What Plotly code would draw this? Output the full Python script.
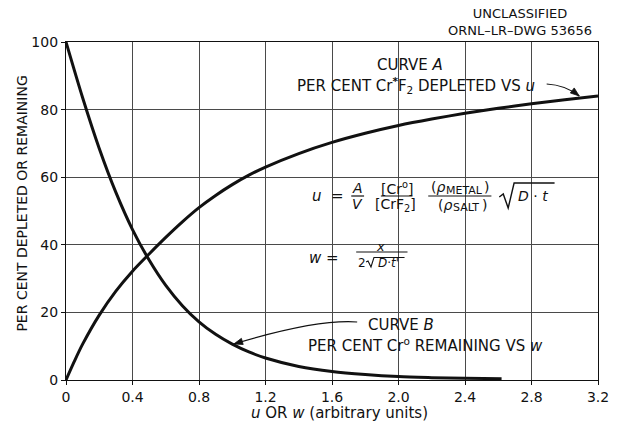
import math
import plotly.graph_objects as go

# Curve A: per cent Cr*F2 depleted vs u
u_vals = [0, 0.05, 0.1, 0.2, 0.3, 0.4, 0.5, 0.6, 0.7, 0.8, 0.9, 1.0, 1.1, 1.2,
          1.4, 1.6, 1.8, 2.0, 2.2, 2.4, 2.6, 2.8, 3.0, 3.2]
curve_a = [0, 5.5, 10.6, 19.2, 26.3, 32.2, 37.3, 42.2, 46.8, 51.0, 54.6, 57.8, 60.6, 63.0,
           67.0, 70.3, 73.0, 75.3, 77.2, 78.9, 80.4, 81.7, 82.9, 84.0]

# Curve B: per cent Cr° remaining vs w
w_vals = [0, 0.1, 0.2, 0.3, 0.4, 0.5, 0.6, 0.7, 0.8, 0.9, 1.0, 1.1, 1.2,
          1.4, 1.6, 1.8, 2.0, 2.2, 2.4, 2.62]
curve_b = [100, 83.5, 68.5, 55.5, 44.5, 35.5, 28.0, 22.0, 17.2, 13.5, 10.6, 8.3, 6.5,
           4.0, 2.5, 1.6, 1.0, 0.7, 0.5, 0.4]

x_ticks = [0, 0.4, 0.8, 1.2, 1.6, 2.0, 2.4, 2.8, 3.2]
x_tick_text = ["0", "0.4", "0.8", "1.2", "1.6", "2.0", "2.4", "2.8", "3.2"]
y_ticks = [0, 20, 40, 60, 80, 100]
y_tick_text = ["0", "20", "40", "60", "80", "100"]

FONT = "DejaVu Sans"
INK = "#111111"

W, H = 621, 423
L, R, T, B = 66, 16, 42, 43
PW, PH = W - L - R, H - T - B


def fx(p):
    """Horizontal page pixel -> paper fraction."""
    return (p - L) / PW


def fy(p):
    """Vertical page pixel -> paper fraction."""
    return (H - B - p) / PH


annotations = []
shapes = []


def label(text, x, y, size=13, anchor="center", **kw):
    annotations.append(dict(text=text, x=fx(x), y=fy(y), xref="paper", yref="paper",
                            showarrow=False, xanchor=anchor, yanchor="middle",
                            font=dict(family=FONT, size=size, color=INK), **kw))


def bar(x0, x1, y, width=1.2):
    shapes.append(dict(type="line", xref="paper", yref="paper",
                       x0=fx(x0), x1=fx(x1), y0=fy(y), y1=fy(y),
                       line=dict(color=INK, width=width)))


def poly(points, width=1.2):
    d = "M " + " L ".join(f"{fx(a):.5f},{fy(b):.5f}" for a, b in points)
    shapes.append(dict(type="path", xref="paper", yref="paper", path=d,
                       line=dict(color=INK, width=width)))


def leader(start, ctrl, tip, head=9.0, half=3.2):
    """Curved leader line with a filled arrowhead at `tip` (page pixels)."""
    d = (f"M {fx(start[0]):.5f},{fy(start[1]):.5f} "
         f"Q {fx(ctrl[0]):.5f},{fy(ctrl[1]):.5f} {fx(tip[0]):.5f},{fy(tip[1]):.5f}")
    shapes.append(dict(type="path", xref="paper", yref="paper", path=d,
                       line=dict(color=INK, width=1.2)))
    dx, dy = tip[0] - ctrl[0], tip[1] - ctrl[1]
    n = math.hypot(dx, dy)
    dx, dy = dx / n, dy / n
    bx, by = tip[0] - head * dx, tip[1] - head * dy
    p1 = (bx - half * dy, by + half * dx)
    p2 = (bx + half * dy, by - half * dx)
    tri = (f"M {fx(tip[0]):.5f},{fy(tip[1]):.5f} L {fx(p1[0]):.5f},{fy(p1[1]):.5f} "
           f"L {fx(p2[0]):.5f},{fy(p2[1]):.5f} Z")
    shapes.append(dict(type="path", xref="paper", yref="paper", path=tri,
                       fillcolor=INK, line=dict(color=INK, width=0.8)))


def rho_term(sub, x_left, y, sub_width):
    """'(rho_SUB)' built from pieces so the subscript can be set larger."""
    label("(<i>ρ</i>", x_left, y, size=14, anchor="left")
    label(sub, x_left + 15, y + 3, size=11, anchor="left")
    label(")", x_left + 15 + sub_width, y, size=14, anchor="left")


fig = go.Figure()
fig.add_trace(go.Scatter(x=u_vals, y=curve_a, mode="lines",
                         line=dict(color=INK, width=3, shape="spline", smoothing=0.8),
                         hoverinfo="skip", showlegend=False))
fig.add_trace(go.Scatter(x=w_vals, y=curve_b, mode="lines",
                         line=dict(color=INK, width=3, shape="spline", smoothing=0.8),
                         hoverinfo="skip", showlegend=False))

# drawing number block
label("UNCLASSIFIED<br>ORNL\u2013LR\u2013DWG 53656", 526, 22, size=13)

# curve captions
label("CURVE <i>A</i>", 415, 65, size=15)
label("PER CENT Cr<sup><b>*</b></sup>F<sub>2</sub> DEPLETED VS <i>u</i>", 421, 85, size=15)
label("CURVE <i>B</i>", 405, 325, size=15)
label("PER CENT Cr<sup>o</sup> REMAINING VS <i>w</i>", 430, 345, size=15)

# u = (A/V) ([Cr°]/[CrF2]) (rho_metal/rho_salt) sqrt(D t)
label("<i>u</i>  =", 331, 196, size=15)
label("<i>A</i>", 361, 188, size=14)
label("<i>V</i>", 361, 204, size=14)
bar(355, 368, 196)
label("[Cr<sup>o</sup>]", 401, 188, size=14)
label("[CrF<sub>2</sub>]", 400, 205, size=14)
bar(385, 417, 196)
rho_term("METAL", 434, 187, 38)
rho_term("SALT", 441, 205, 29)
bar(433, 497, 196)
poly([(505, 197), (509, 194), (514, 208), (520, 183), (561, 183)], width=1.4)
label("<i>D</i> · <i>t</i>", 539, 196, size=14)

# w = x / (2 sqrt(D t'))
label("<i>w</i> =", 327, 258, size=15)
label("<i>x</i>", 385, 246, size=13)
bar(360, 412, 252)
label("2", 366, 263, size=12)
poly([(370, 262), (372, 261), (375, 267), (378, 257.5), (409, 257.5)], width=1.1)
label("<i>D</i>·<i>t'</i>", 393, 263, size=12)

# axis titles
label("PER CENT DEPLETED OR REMAINING", 21, 204, size=14, textangle=-90)
label("<i>u</i> OR <i>w</i> (arbitrary units)", 343, 413, size=15)

# leader arrows from the captions to their curves
leader((553, 84), (572, 85), (586, 96))
leader((361, 322), (320, 319), (236, 344))

axis_common = dict(showline=True, mirror=True, linecolor=INK, linewidth=1.3,
                   showgrid=True, gridcolor="#4a4a4a", gridwidth=1, zeroline=False,
                   ticks="outside", ticklen=4, tickcolor=INK,
                   tickfont=dict(family=FONT, size=14, color=INK))

fig.update_xaxes(range=[0, 3.2], tickvals=x_ticks, ticktext=x_tick_text, **axis_common)
fig.update_yaxes(range=[0, 100], tickvals=y_ticks, ticktext=y_tick_text, **axis_common)

fig.update_layout(width=W, height=H, margin=dict(l=L, r=R, t=T, b=B),
                  paper_bgcolor="white", plot_bgcolor="white",
                  annotations=annotations, shapes=shapes, showlegend=False)

fig.write_html("out.html")
